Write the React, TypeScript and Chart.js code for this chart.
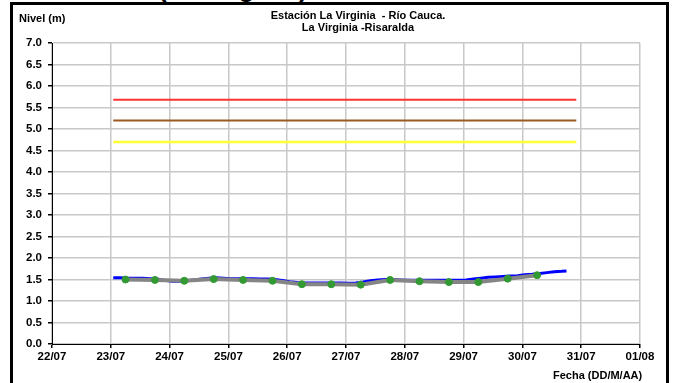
import React, { useEffect, useRef } from "react";
import { Chart, registerables } from "chart.js";

Chart.register(...registerables);

// X axis: hours since 22/07 00:00
const fechaLabels = ["22/07", "23/07", "24/07", "25/07", "26/07", "27/07", "28/07", "29/07", "30/07", "31/07", "01/08"];

// Blue series (continuous record)
const horasNivel = [25, 28, 31, 34, 37, 40, 43, 46, 49, 52, 55, 58, 61, 64, 67, 70, 73, 76, 79, 82, 85, 88, 91, 94, 97, 100, 103, 106, 109, 112, 115, 118, 121, 124, 127, 130, 133, 136, 139, 142, 145, 148, 151, 154, 157, 160, 163, 166, 169, 172, 175, 178, 181, 184, 187, 190, 193, 196, 199, 202, 205, 208, 210];
const valoresNivel = [1.54, 1.54, 1.53, 1.53, 1.53, 1.52, 1.51, 1.48, 1.46, 1.46, 1.47, 1.49, 1.51, 1.53, 1.54, 1.53, 1.52, 1.52, 1.52, 1.52, 1.51, 1.51, 1.50, 1.48, 1.45, 1.43, 1.42, 1.42, 1.42, 1.42, 1.42, 1.42, 1.41, 1.42, 1.44, 1.47, 1.49, 1.50, 1.50, 1.49, 1.48, 1.48, 1.48, 1.48, 1.48, 1.48, 1.48, 1.48, 1.49, 1.51, 1.53, 1.55, 1.56, 1.57, 1.58, 1.59, 1.61, 1.62, 1.64, 1.66, 1.68, 1.69, 1.70];

// Gray series with green markers (readings at 06:00 and 18:00)
const horasLectura = [30, 42, 54, 66, 78, 90, 102, 114, 126, 138, 150, 162, 174, 186, 198];
const valoresLectura = [1.50, 1.49, 1.47, 1.51, 1.49, 1.47, 1.39, 1.39, 1.38, 1.49, 1.46, 1.44, 1.44, 1.52, 1.60];

// Alert thresholds
const umbralInicio = 25;
const umbralFin = 214;
const umbralRojo = 5.68;
const umbralNaranja = 5.2;
const umbralAmarillo = 4.7;

const FONT = "'Liberation Sans', Arial, sans-serif";

export default function App() {
  const ref = useRef<HTMLCanvasElement | null>(null);

  useEffect(() => {
    document.body.style.margin = "0";
    const canvas = ref.current;
    if (!canvas) return;
    const lineaUmbral = (v: number) => [
      { x: umbralInicio, y: v },
      { x: umbralFin, y: v },
    ];
    const chart = new Chart(canvas, {
      type: "line",
      data: {
        datasets: [
          {
            data: horasLectura.map((h, i) => ({ x: h, y: valoresLectura[i] })),
            borderColor: "#858585",
            borderWidth: 4,
            pointRadius: 3.5,
            pointBackgroundColor: "#339933",
            pointBorderColor: "#339933",
            pointBorderWidth: 1,
            tension: 0,
            order: 0,
          },
          {
            data: horasNivel.map((h, i) => ({ x: h, y: valoresNivel[i] })),
            borderColor: "#0000ff",
            borderWidth: 3,
            pointRadius: 0,
            tension: 0,
            order: 1,
          },
          {
            data: lineaUmbral(umbralRojo),
            borderColor: "#ff3333",
            borderWidth: 2,
            pointRadius: 0,
            order: 2,
          },
          {
            data: lineaUmbral(umbralNaranja),
            borderColor: "#9c5a22",
            borderWidth: 2,
            pointRadius: 0,
            order: 2,
          },
          {
            data: lineaUmbral(umbralAmarillo),
            borderColor: "#ffff33",
            borderWidth: 2.5,
            pointRadius: 0,
            order: 2,
          },
        ],
      },
      options: {
        animation: false,
        responsive: false,
        maintainAspectRatio: false,
        events: [],
        layout: { padding: { left: 10, right: 33, top: 43, bottom: 19 } },
        plugins: { legend: { display: false }, tooltip: { enabled: false }, title: { display: false } },
        scales: {
          x: {
            type: "linear",
            min: 0,
            max: 240,
            afterFit: (s: any) => {
              s.height = 20;
            },
            ticks: {
              stepSize: 24,
              autoSkip: false,
              maxRotation: 0,
              padding: 2,
              color: "#000",
              font: { family: FONT, size: 11.5, weight: "bold" },
              callback: (v: any) => fechaLabels[Math.round(Number(v) / 24)] ?? "",
            },
            grid: { color: "#c8c8c8", lineWidth: 1.5, tickLength: 4, tickColor: "#000" },
            border: { color: "#000", width: 1 },
          },
          y: {
            min: 0,
            max: 7,
            afterFit: (s: any) => {
              s.width = 42;
            },
            ticks: {
              stepSize: 0.5,
              padding: 6,
              color: "#000",
              font: { family: FONT, size: 11.5, weight: "bold" },
              callback: (v: any) => Number(v).toFixed(1),
            },
            grid: { color: "#c8c8c8", lineWidth: 1.5, tickLength: 4, tickColor: "#000" },
            border: { color: "#000", width: 1 },
          },
        },
      },
    } as any);
    return () => chart.destroy();
  }, []);

  const txt: React.CSSProperties = {
    position: "absolute",
    fontFamily: FONT,
    fontWeight: "bold",
    fontSize: 11,
    color: "#000",
    whiteSpace: "nowrap",
    lineHeight: "12px",
  };

  return (
    <div style={{ position: "relative", width: 673, height: 383, overflow: "hidden", background: "#fff" }}>
      <div
        style={{
          position: "absolute",
          left: 158,
          top: -25,
          fontFamily: FONT,
          fontWeight: "bold",
          fontSize: 26,
          lineHeight: "26px",
          whiteSpace: "nowrap",
        }}
      >
        (La Virginia)
      </div>
      <div
        style={{
          position: "absolute",
          left: 10,
          top: 2,
          width: 653,
          height: 400,
          border: "3px solid #000",
        }}
      />
      <canvas ref={ref} width={673} height={383} style={{ position: "absolute", left: 0, top: 0 }} />
      <div style={{ ...txt, left: 19, top: 12 }}>Nivel (m)</div>
      <div style={{ ...txt, left: 158, width: 400, top: 9, textAlign: "center" }}>
        Estación La Virginia &nbsp;- Río Cauca.
      </div>
      <div style={{ ...txt, left: 158, width: 400, top: 21, textAlign: "center" }}>La Virginia -Risaralda</div>
      <div style={{ ...txt, left: 553, top: 369 }}>Fecha (DD/M/AA)</div>
    </div>
  );
}
